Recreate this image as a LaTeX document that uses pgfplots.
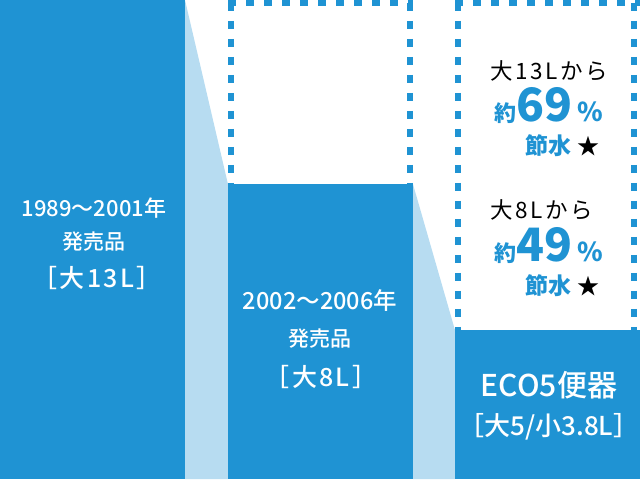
\documentclass[border=0pt]{standalone}
\usepackage{fontspec}
\setmainfont{Noto Sans CJK JP}
\IfFontExistsTF{Noto Sans CJK JP Medium}
  {\newfontfamily\med{Noto Sans CJK JP Medium}\newfontfamily\medw[LetterSpace=9]{Noto Sans CJK JP Medium}}
  {\newfontfamily\med[FakeBold=0.8]{Noto Sans CJK JP}\newfontfamily\medw[FakeBold=0.8,LetterSpace=9]{Noto Sans CJK JP}}
\newfontfamily\regw[LetterSpace=12]{Noto Sans CJK JP}
\usepackage{pgfplots}
\pgfplotsset{compat=1.18}
\definecolor{toto}{HTML}{1F93D3}
\definecolor{lite}{HTML}{B7DCF1}
\newcommand{\fs}[1]{\fontsize{#1bp}{#1bp}\selectfont}
\begin{document}
\begin{tikzpicture}
\begin{axis}[width=640bp,height=479bp,scale only axis,hide axis,
  xmin=0,xmax=640,ymin=0,ymax=13,clip=true]
% connectors
\addplot[fill=lite,draw=none] coordinates {(185,0)(185,13)(228,8)(228,0)} -- cycle;
\addplot[fill=lite,draw=none] coordinates {(413,0)(413,8)(455,4.04)(455,0)} -- cycle;
% bars (litres)
\addplot[fill=toto,draw=none] coordinates {(0,0)(0,13)(185,13)(185,0)} -- cycle;
\addplot[fill=toto,draw=none] coordinates {(228,0)(228,8)(413,8)(413,0)} -- cycle;
\addplot[fill=toto,draw=none] coordinates {(455,0)(455,4.04)(640,4.04)(640,0)} -- cycle;
% dotted 13L outlines
\addplot[draw=toto,line width=6.5bp,dash pattern=on 8bp off 10bp] coordinates {(231,12.92)(231,8)};
\addplot[draw=toto,line width=6.5bp,dash pattern=on 8bp off 10bp] coordinates {(228,12.92)(413,12.92)};
\addplot[draw=toto,line width=6.5bp,dash pattern=on 8bp off 10bp] coordinates {(410,12.92)(410,8)};
\addplot[draw=toto,line width=6.5bp,dash pattern=on 8bp off 10bp] coordinates {(458,12.92)(458,4.04)};
\addplot[draw=toto,line width=6.5bp,dash pattern=on 8bp off 10bp] coordinates {(455,12.92)(640,12.92)};
\addplot[draw=toto,line width=6.5bp,dash pattern=on 8bp off 10bp] coordinates {(634,12.92)(634,4.04)};
% labels in bars
\node[text=white,font=\med\fs{22},inner sep=0] at (rel axis cs:94/640,1-208/479) {1989〜2001年};
\node[text=white,font=\med\fs{21},inner sep=0] at (rel axis cs:94/640,1-242/479) {発売品};
\node[text=white,font=\medw\fs{25},inner sep=0] at (rel axis cs:97/640,1-278/479) {［大13L］};
\node[text=white,font=\med\fs{23.5},inner sep=0] at (rel axis cs:320/640,1-301/479) {2002〜2006年};
\node[text=white,font=\med\fs{21},inner sep=0] at (rel axis cs:320/640,1-339/479) {発売品};
\node[text=white,font=\medw\fs{25},inner sep=0] at (rel axis cs:321/640,1-377/479) {［大8L］};
\node[text=white,font=\med\fs{30},inner sep=0] at (rel axis cs:549/640,1-385/479) {ECO5便器};
\node[text=white,font=\med\fs{26},inner sep=0] at (rel axis cs:549/640,1-427/479) {［大5/小3.8L］};
% savings text
\node[text=black,font=\regw\fs{22.5},inner sep=0,anchor=west] at (rel axis cs:490/640,1-71/479) {大13Lから};
\node[inner sep=0,anchor=base east] at (rel axis cs:603/640,1-122/479) {\bfseries\color{toto}{\fs{22}約}{\fs{46}69}{\fs{26}\,\%}};
\node[inner sep=0,anchor=base east] at (rel axis cs:600/640,1-155/479) {\bfseries{\color{toto}\fs{23}節水}\hspace{6bp}{\fs{22}★}};
\node[text=black,font=\regw\fs{22.5},inner sep=0,anchor=west] at (rel axis cs:490/640,1-210/479) {大8Lから};
\node[inner sep=0,anchor=base east] at (rel axis cs:603/640,1-262/479) {\bfseries\color{toto}{\fs{22}約}{\fs{46}49}{\fs{26}\,\%}};
\node[inner sep=0,anchor=base east] at (rel axis cs:600/640,1-295/479) {\bfseries{\color{toto}\fs{23}節水}\hspace{6bp}{\fs{22}★}};
\end{axis}
\end{tikzpicture}
\end{document}
